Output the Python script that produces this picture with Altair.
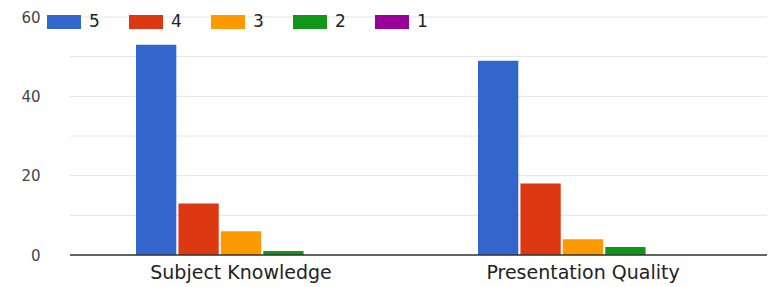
import altair as alt
import pandas as pd

categories = ["Subject Knowledge", "Presentation Quality"]
levels = ["5", "4", "3", "2", "1"]
colors = ["#3366cc", "#dc3912", "#ff9900", "#109618", "#990099"]
values = {
    "5": [53, 49],
    "4": [13, 18],
    "3": [6, 4],
    "2": [1, 2],
    "1": [0, 0],
}
y_ticks = [0, 10, 20, 30, 40, 50, 60]

rows = []
for lv in levels:
    for c, v in zip(categories, values[lv]):
        rows.append({"category": c, "level": lv, "value": v})
df = pd.DataFrame(rows)
grid_df = pd.DataFrame({"tick": y_ticks})
base_df = pd.DataFrame({"tick": [0]})

FONT = "DejaVu Sans"
W, H = 697, 238

yscale = alt.Scale(domain=[0, 60], nice=False)
yaxis = alt.Axis(title=None, values=y_ticks, ticks=False, domain=False, grid=False,
                 labelExpr="datum.value % 20 == 0 ? datum.label : ''",
                 labelFont=FONT, labelFontSize=15, labelColor="#444444",
                 labelPadding=30, labelBound=False,
                 minExtent=62, maxExtent=62)

grid = alt.Chart(grid_df).mark_rule(color="#e4e4e4", strokeWidth=1).encode(
    y=alt.Y("tick:Q", scale=yscale, axis=yaxis),
    x=alt.value(0), x2=alt.value(W),
)

bars = alt.Chart(df).mark_bar().encode(
    x=alt.X("category:N", sort=categories,
            scale=alt.Scale(range=[0, 684], paddingInner=0.386, paddingOuter=0.193),
            axis=alt.Axis(title=None, labelAngle=0, ticks=False, domain=False,
                          labelFont=FONT, labelFontSize=19, labelColor="#222222",
                          labelPadding=8, labelLimit=0)),
    xOffset=alt.XOffset("level:N", sort=levels, scale=alt.Scale(paddingInner=0.05)),
    y=alt.Y("value:Q", scale=yscale, axis=yaxis),
    color=alt.Color("level:N", sort=levels,
                    scale=alt.Scale(domain=levels, range=colors),
                    legend=alt.Legend(title=None, orient="none", direction="horizontal",
                                      legendX=-23, legendY=-12,
                                      symbolType="M-1,-0.41H1V0.41H-1Z",
                                      symbolSize=1156, symbolStrokeWidth=0,
                                      symbolOpacity=1,
                                      labelFont=FONT, labelFontSize=17,
                                      labelColor="#222222", labelOffset=8,
                                      columnPadding=29, padding=0)),
)

baseline = alt.Chart(base_df).mark_rule(color="#333333", strokeWidth=1.5).encode(
    y=alt.Y("tick:Q", scale=yscale, axis=yaxis),
    x=alt.value(0), x2=alt.value(W),
)

chart = alt.layer(grid, bars, baseline).properties(
    width=W, height=H,
    autosize=alt.AutoSizeParams(type="none"),
    padding={"left": 62, "top": 9, "right": 0, "bottom": 32},
).configure_view(stroke=None)

chart.save("out.html", embed_options={"renderer": "svg", "actions": False})
